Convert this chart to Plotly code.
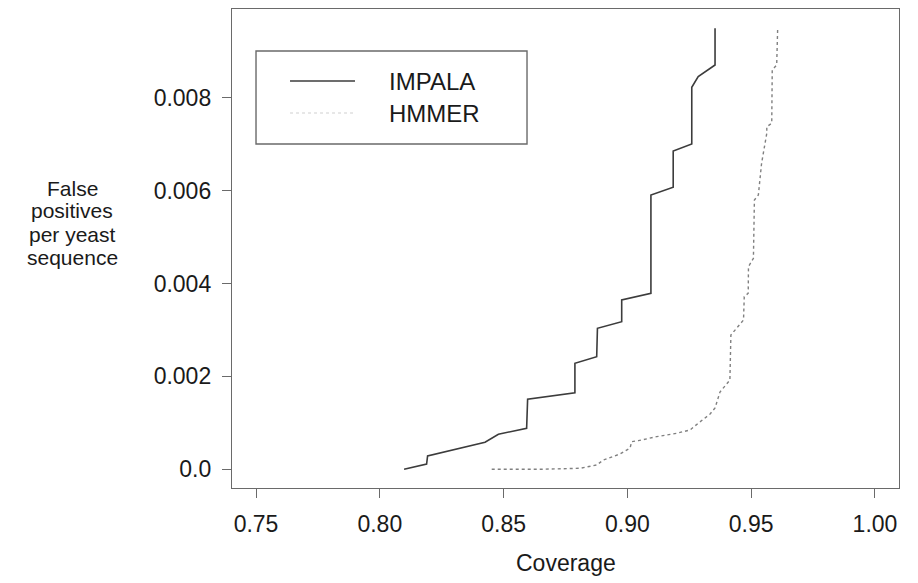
import plotly.graph_objects as go

# ---- data ----
impala_cov = [0.8098, 0.8189, 0.8193, 0.8425, 0.8479, 0.8593, 0.8597, 0.8788, 0.8788,
              0.8876, 0.8879, 0.8977, 0.8977, 0.9095, 0.9095, 0.9185, 0.9185, 0.9260,
              0.9260, 0.9277, 0.9286, 0.9354, 0.9354]
impala_fp = [0.0, 0.000114, 0.000286, 0.000581, 0.000754, 0.000883, 0.001507, 0.001649,
             0.002282, 0.002424, 0.003036, 0.003178, 0.003645, 0.003789, 0.005905, 0.006071,
             0.006853, 0.007003, 0.008224, 0.00836, 0.008452, 0.008704, 0.009494]

hmmer_cov = [0.8452, 0.8647, 0.8809, 0.8876, 0.8903, 0.8970, 0.9011, 0.9017, 0.9044,
             0.9118, 0.9199, 0.9253, 0.9286, 0.9334, 0.9354, 0.9374, 0.9414, 0.9418,
             0.9424, 0.9469, 0.9472, 0.9488, 0.9489, 0.9509, 0.9513, 0.9529, 0.9542,
             0.9563, 0.9563, 0.9583, 0.9585, 0.9603, 0.9607]
hmmer_fp = [0.0, 0.0, 0.0000215, 0.0000926, 0.0002, 0.000329, 0.000459, 0.000594, 0.000616,
            0.000702, 0.000775, 0.000846, 0.00099, 0.00119, 0.00132, 0.001664, 0.00192,
            0.002891, 0.002928, 0.003214, 0.003716, 0.003789, 0.004362, 0.004543, 0.005798,
            0.005906, 0.006588, 0.007234, 0.007376, 0.007449, 0.008596, 0.008704, 0.009494]

x_ticks = [0.75, 0.80, 0.85, 0.90, 0.95, 1.00]
x_ticktext = ["0.75", "0.80", "0.85", "0.90", "0.95", "1.00"]
y_ticks = [0.0, 0.002, 0.004, 0.006, 0.008]
y_ticktext = ["0.0", "0.002", "0.004", "0.006", "0.008"]

series_names = ["IMPALA", "HMMER"]
ylabel_lines = ["False", "positives", "per yeast", "sequence"]
xlabel = "Coverage"

FONT = "Liberation Sans, Arial, sans-serif"
TXT = "#1a1a1a"
AX = "#6a6a6a"

fig = go.Figure()
fig.add_trace(go.Scatter(x=impala_cov, y=impala_fp, mode="lines", name=series_names[0],
                         line=dict(color="#3c3c3c", width=1.6), showlegend=False))
fig.add_trace(go.Scatter(x=hmmer_cov, y=hmmer_fp, mode="lines", name=series_names[1],
                         line=dict(color="#808080", width=1.4, dash="dot"), showlegend=False))

fig.update_xaxes(range=[0.7403, 1.0097], tickmode="array", tickvals=x_ticks, ticktext=x_ticktext,
                 ticks="outside", ticklen=9, tickwidth=1.3, tickcolor=AX,
                 showline=True, mirror=True, linecolor=AX, linewidth=1.4,
                 showgrid=False, zeroline=False, ticklabelstandoff=6,
                 tickfont=dict(family=FONT, size=23, color=TXT))
fig.update_yaxes(range=[-0.000403, 0.009909], tickmode="array", tickvals=y_ticks, ticktext=y_ticktext,
                 ticks="outside", ticklen=9, tickwidth=1.3, tickcolor=AX,
                 showline=True, mirror=True, linecolor=AX, linewidth=1.4,
                 showgrid=False, zeroline=False, ticklabelstandoff=6,
                 tickfont=dict(family=FONT, size=23, color=TXT))

# legend box drawn manually (paper coords)
fig.add_shape(type="rect", xref="paper", yref="paper", x0=0.036, x1=0.4423, y0=0.7182, y1=0.9123,
              line=dict(color=AX, width=1.4), fillcolor="rgba(0,0,0,0)")
fig.add_shape(type="line", xref="paper", yref="paper", x0=0.087, x1=0.1844, y0=0.8497, y1=0.8497,
              line=dict(color="#3c3c3c", width=1.6))
fig.add_shape(type="line", xref="paper", yref="paper", x0=0.087, x1=0.1844, y0=0.7829, y1=0.7829,
              line=dict(color="#d0d0d0", width=1.2, dash="dot"))
fig.add_annotation(xref="paper", yref="paper", x=0.2324, y=0.849, text=series_names[0],
                   showarrow=False, xanchor="left", yanchor="middle",
                   font=dict(family=FONT, size=24, color=TXT))
fig.add_annotation(xref="paper", yref="paper", x=0.2324, y=0.7823, text=series_names[1],
                   showarrow=False, xanchor="left", yanchor="middle",
                   font=dict(family=FONT, size=24, color=TXT))

# y-axis title, four horizontal lines
y_centers_px = [188, 211, 234, 257]
for line_txt, ypx in zip(ylabel_lines, y_centers_px):
    fig.add_annotation(xref="paper", yref="paper", x=(72 - 232) / 667, y=(488 - ypx) / 479,
                       text=line_txt, showarrow=False, xanchor="center", yanchor="middle",
                       font=dict(family=FONT, size=21, color=TXT))

fig.add_annotation(xref="paper", yref="paper", x=0.5, y=(488 - 563) / 479, text=xlabel,
                   showarrow=False, xanchor="center", yanchor="middle",
                   font=dict(family=FONT, size=23, color=TXT))

fig.update_layout(width=918, height=583, margin=dict(l=232, r=19, t=9, b=95),
                  paper_bgcolor="white", plot_bgcolor="white", showlegend=False)

fig.write_html("out.html")
